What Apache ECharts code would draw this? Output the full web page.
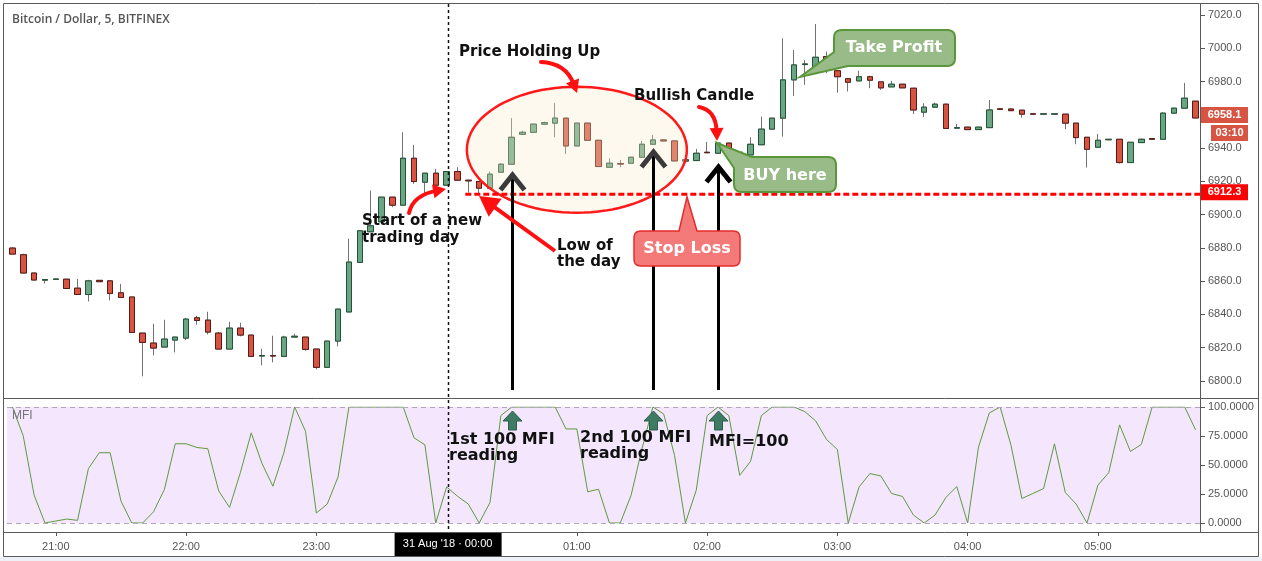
<!DOCTYPE html>
<html><head><meta charset="utf-8">
<script src="https://cdn.jsdelivr.net/npm/echarts@6/dist/echarts.min.js"></script>
<style>html,body{margin:0;padding:0;background:#fff;overflow:hidden}#c{width:1262px;height:561px}</style>
</head><body><div id="c"></div>
<script>
// ---------------- data ----------------
const title = 'Bitcoin / Dollar, 5, BITFINEX';
const firstBar = '20:40';
const barCount = 110;
// [open, close, low, high]
const ohlc = [
[6879.9,6876.3,6876.3,6880.5],[6875.9,6864.9,6864.9,6876.5],[6864.9,6860.7,6860.7,6864.9],[6860.6,6861.0,6858.6,6861.0],[6861.1,6861.3,6861.1,6861.3],
[6861.2,6855.6,6855.6,6861.2],[6855.8,6852.0,6852.0,6861.4],[6852.0,6860.2,6847.8,6860.8],[6860.5,6859.7,6859.7,6860.5],[6860.2,6852.6,6848.4,6860.2],
[6853.0,6850.2,6850.2,6858.4],[6850.5,6829.2,6829.2,6850.5],[6828.8,6823.2,6802.8,6828.8],[6822.8,6819.8,6815.4,6834.4],[6820.4,6825.2,6820.4,6836.8],
[6824.6,6826.4,6817.2,6826.4],[6825.8,6837.2,6824.6,6838.0],[6838.0,6836.4,6833.8,6839.2],[6836.6,6829.4,6828.0,6841.6],[6828.8,6819.2,6819.2,6829.4],
[6819.2,6831.8,6819.2,6835.6],[6831.8,6827.6,6826.8,6835.0],[6827.6,6814.8,6814.8,6827.6],[6815.0,6815.3,6809.4,6819.4],[6815.3,6815.0,6811.2,6827.2],
[6814.8,6826.4,6814.8,6827.2],[6826.4,6826.9,6826.4,6828.4],[6826.4,6819.0,6818.2,6826.4],[6819.2,6808.2,6807.0,6819.2],[6808.2,6824.0,6808.2,6824.0],
[6824.0,6843.2,6820.8,6843.2],[6841.5,6871.5,6841.5,6885.5],[6871.3,6890.3,6871.3,6890.3],[6889.7,6893.3,6889.7,6914.5],[6895.7,6910.5,6895.7,6910.5],
[6910.5,6905.7,6904.5,6910.5],[6905.7,6933.9,6905.7,6949.5],[6933.9,6919.9,6918.5,6941.9],[6919.5,6924.9,6912.9,6924.9],[6924.9,6917.7,6915.9,6927.5],
[6917.7,6925.9,6917.7,6925.9],[6925.9,6920.7,6920.7,6928.5],[6920.7,6920.3,6913.3,6920.7],[6919.9,6915.9,6912.3,6919.9],[6915.9,6924.3,6915.9,6925.9],
[6925.5,6930.3,6925.5,6931.0],[6930.3,6946.5,6930.3,6958.0],[6948.3,6949.5,6948.3,6950.5],[6949.5,6954.4,6949.5,6954.4],[6954.4,6955.3,6954.4,6955.9],
[6955.0,6958.0,6946.5,6967.0],[6958.0,6941.3,6936.5,6958.0],[6941.3,6955.0,6941.3,6955.0],[6955.0,6944.7,6944.7,6955.0],[6944.7,6928.9,6928.9,6944.7],
[6928.5,6930.9,6928.5,6933.9],[6930.7,6930.4,6928.5,6932.9],[6930.9,6934.5,6930.9,6934.5],[6934.5,6942.3,6934.5,6944.3],[6942.3,6944.9,6942.3,6947.9],
[6944.9,6944.3,6944.3,6944.9],[6944.3,6932.3,6932.3,6944.3],[6932.2,6933.0,6932.2,6933.0],[6932.5,6936.9,6932.5,6939.5],[6937.5,6937.2,6937.2,6943.7],
[6936.9,6943.0,6936.9,6943.0],[6943.0,6937.3,6937.3,6943.0],[6937.5,6935.9,6934.9,6937.5],[6935.9,6942.3,6935.9,6946.5],[6942.0,6951.4,6942.0,6958.9],
[6951.4,6958.0,6951.4,6958.0],[6958.0,6981.0,6946.9,7006.0],[6981.0,6990.0,6971.4,6999.0],[6990.2,6990.6,6978.0,6993.0],[6989.0,6994.6,6985.0,7014.6],
[6995.0,6987.0,6985.0,6998.0],[6986.5,6982.9,6973.3,6986.5],[6981.7,6979.6,6974.0,6981.7],[6980.4,6982.9,6980.4,6986.5],[6982.9,6980.8,6976.0,6983.5],
[6979.8,6976.2,6975.0,6979.8],[6976.8,6978.4,6976.8,6980.4],[6978.4,6976.2,6976.2,6978.4],[6976.0,6962.9,6960.5,6976.0],[6961.6,6964.6,6958.6,6967.0],
[6964.6,6966.4,6964.6,6967.3],[6966.4,6951.8,6951.8,6966.4],[6952.0,6952.3,6952.0,6954.5],[6952.6,6951.1,6951.1,6952.6],[6951.1,6952.6,6951.1,6952.6],
[6952.3,6962.9,6952.3,6968.9],[6963.6,6963.3,6963.3,6963.6],[6963.5,6962.5,6962.5,6964.1],[6962.8,6960.4,6958.3,6962.8],[6960.6,6960.4,6960.4,6960.6],
[6960.4,6960.6,6960.4,6960.6],[6960.4,6960.6,6960.4,6960.6],[6960.4,6955.0,6951.4,6960.4],[6955.0,6946.3,6942.3,6955.0],[6946.5,6939.3,6928.3,6946.5],
[6940.5,6944.7,6940.5,6948.5],[6945.0,6945.3,6945.0,6945.3],[6945.3,6931.3,6930.7,6945.3],[6931.3,6943.5,6931.3,6943.5],[6943.3,6945.3,6943.3,6945.8],
[6945.7,6945.3,6945.3,6945.7],[6945.3,6961.0,6945.3,6961.6],[6961.0,6964.0,6961.0,6964.0],[6964.0,6970.0,6964.0,6979.2],[6968.2,6958.1,6958.1,6968.2]
];
const mfi = [
100,74.9,24,0,1.7,3.4,2.3,46.9,60.6,60.6,
18.9,0,0,9.7,28.9,68.3,68.3,65.1,64,27.7,
13.4,43.4,77.7,51.1,31.7,60.3,100,79.1,8.6,16.3,
39.7,100,100,100,100,100,100,73.4,67.4,0,
31.1,23.1,16.3,0,17.7,92.6,100,100,100,100,
100,81.1,81.1,26.9,29.1,0,0,24,64,100,
94,58.3,0,28.3,92.6,100,92.6,41.1,53.1,92.6,
100,100,100,96,88,72,63.4,0,31.1,42.6,
40.6,25.4,22.9,6.9,0,6.9,22,31.4,0,65.4,
94.9,100,66.9,21.1,25.4,29.7,68.3,26.3,16.3,0,
32.6,43.4,84.6,61.7,67.7,100,100,100,100,80.3
];
const lastPrice = 6958.1;
const countdown = '03:10';
const stopPrice = 6912.3;
const dayStartIndex = 40;
const dayStartLabel = "31 Aug '18 \u00b7 00:00";
const signalIndex = [46, 59, 65];

// category labels (5-minute bars)
const times = [];
{
  const [h0, m0] = firstBar.split(':').map(Number);
  for (let k = 0; k < barCount; k++) {
    const m = h0 * 60 + m0 + 5 * k;
    times.push(String(Math.floor(m / 60) % 24).padStart(2, '0') + ':' + String(m % 60).padStart(2, '0'));
  }
}
const isHour = (i, v) => v.endsWith(':00') && i !== dayStartIndex;

// ---------------- chart ----------------
const chart = echarts.init(document.getElementById('c'));
const AX = '#555';
const AXFONT = 'Liberation Sans, Arial, sans-serif';
const gridBase = {left: 7, right: 61, outerBoundsMode: 'none', containLabel: false};
chart.setOption({
  animation: false,
  backgroundColor: '#ffffff',
  grid: [
    Object.assign({top: 15, height: 366}, gridBase),
    Object.assign({top: 407, height: 116}, gridBase),
    Object.assign({top: 532, height: 1}, gridBase)
  ],
  xAxis: [0, 1, 2].map(g => ({
    type: 'category', gridIndex: g, data: times, boundaryGap: true,
    axisLine: {show: false},
    axisTick: {show: g === 2, alignWithLabel: true, length: 3, interval: isHour, lineStyle: {color: AX}},
    axisLabel: {show: g === 2, interval: isHour, margin: 8, color: AX, fontSize: 11, fontFamily: AXFONT},
    splitLine: {show: false}
  })),
  yAxis: [
    {type: 'value', gridIndex: 0, position: 'right', min: 6800, max: 7020, interval: 20,
     axisLine: {show: false}, axisTick: {show: true, length: 4, lineStyle: {color: AX}},
     axisLabel: {margin: 7, color: AX, fontSize: 11, fontFamily: AXFONT, formatter: v => v.toFixed(1)},
     splitLine: {show: false}},
    {type: 'value', gridIndex: 1, position: 'right', min: 0, max: 100, interval: 25,
     axisLine: {show: false}, axisTick: {show: true, length: 4, lineStyle: {color: AX}},
     axisLabel: {margin: 7, color: AX, fontSize: 11, fontFamily: AXFONT, formatter: v => v.toFixed(4)},
     splitLine: {show: false}},
    {type: 'value', gridIndex: 2, show: false}
  ],
  series: [
    {type: 'candlestick', xAxisIndex: 0, yAxisIndex: 0, data: ohlc, barWidth: 6, z: 2,
     itemStyle: {color: '#737375', color0: '#737375', borderColor: '#737375', borderColor0: '#737375', borderColorDoji: '#737375', borderWidth: 1}},
    {type: 'candlestick', xAxisIndex: 0, yAxisIndex: 0, barWidth: 6, z: 3,
     data: ohlc.map(([o, c]) => [o, c, Math.min(o, c), Math.max(o, c)]),
     itemStyle: {color: '#6ba583', color0: '#d75442', borderColor: '#225437', borderColor0: '#5b1a13', borderWidth: 1}},
    {type: 'line', xAxisIndex: 1, yAxisIndex: 1, data: mfi, symbol: 'none', z: 3,
     lineStyle: {color: '#5f9a3f', width: 1},
     markArea: {silent: true, itemStyle: {color: '#f3e6fd'}, data: [[{yAxis: 0}, {yAxis: 100}]]},
     markLine: {silent: true, symbol: 'none', label: {show: false},
       lineStyle: {color: '#b3a5bc', type: [5, 4], width: 1}, data: [{yAxis: 0}, {yAxis: 100}]}}
  ]
});

// ---------------- annotations ----------------
const P = (i, v) => chart.convertToPixel({gridIndex: 0}, [i, v]);
const Q = (i, v) => chart.convertToPixel({gridIndex: 1}, [i, v]);
const G = [];
const Z = 20;
const ANN = 'bold 15px "DejaVu Sans", Verdana, sans-serif';
const ANN16 = 'bold 16px "DejaVu Sans", Verdana, sans-serif';

function text(x, y, t, font, fill, align, lh) {
  G.push({type: 'text', x: x, y: y, z: 60, silent: true,
    style: {text: t, font: font, fill: fill, textAlign: align || 'left', align: align || 'left',
      textVerticalAlign: 'middle', verticalAlign: 'middle', lineHeight: lh || 17}});
}
function line(x1, y1, x2, y2, stroke, w, dash, z) {
  G.push({type: 'line', z: z || Z, silent: true, shape: {x1, y1, x2, y2},
    style: {stroke: stroke, lineWidth: w, lineDash: dash || null}});
}
function poly(points, fill, stroke, w, z) {
  G.push({type: 'polygon', z: z || Z, silent: true, shape: {points: points},
    style: {fill: fill, stroke: stroke || null, lineWidth: w || 0}});
}
function roundPts(pts) {
  const out = []; const n = pts.length;
  for (let k = 0; k < n; k++) {
    const [x, y, r] = pts[k];
    if (!r) { out.push([x, y]); continue; }
    const [px, py] = pts[(k - 1 + n) % n], [nx, ny] = pts[(k + 1) % n];
    const d1 = Math.hypot(px - x, py - y), d2 = Math.hypot(nx - x, ny - y);
    const a = [x + (px - x) / d1 * r, y + (py - y) / d1 * r], b = [x + (nx - x) / d2 * r, y + (ny - y) / d2 * r];
    for (let s = 0; s <= 6; s++) {
      const t = s / 6;
      out.push([(1 - t) * (1 - t) * a[0] + 2 * (1 - t) * t * x + t * t * b[0],
                (1 - t) * (1 - t) * a[1] + 2 * (1 - t) * t * y + t * t * b[1]]);
    }
  }
  return out;
}
function curvedArrow(p0, c, tip, color, w, hl, hw) {
  const dx = tip[0] - c[0], dy = tip[1] - c[1], d = Math.hypot(dx, dy);
  const ux = dx / d, uy = dy / d;
  const base = [tip[0] - ux * hl, tip[1] - uy * hl];
  const end = [tip[0] - ux * hl * 0.7, tip[1] - uy * hl * 0.7];
  G.push({type: 'bezierCurve', z: Z, silent: true,
    shape: {x1: p0[0], y1: p0[1], cpx1: c[0], cpy1: c[1], x2: end[0], y2: end[1]},
    style: {stroke: color, lineWidth: w, fill: null, lineCap: 'round'}});
  poly([tip, [base[0] - uy * hw, base[1] + ux * hw], [base[0] + uy * hw, base[1] - ux * hw]], color, null, 0, Z + 1);
}

// light strip below chart
G.push({type: 'rect', z: 0, silent: true, shape: {x: 0, y: 557, width: 1262, height: 4}, style: {fill: '#eef1f6'}});

// ellipse "price holding up" (over the candles, semi-transparent)
{
  const [cx, cy] = P(52, 6939);
  const pts = [];
  for (let k = 0; k < 96; k++) { const a = k / 96 * Math.PI * 2; pts.push([cx + 110 * Math.cos(a), cy + 63 * Math.sin(a)]); }
  poly(pts, 'rgba(250,236,205,0.32)', '#ff1a1a', 2.5, 8);
}

// stop level dashed line
{
  const [x0, y] = P(42, stopPrice);
  line(x0 - 3, y, 1200, y, '#ff0000', 3, [6, 3], 12);
}

// day start dotted line
{
  const x = Math.round(P(dayStartIndex, 6900)[0]) + 1.5;
  line(x, 4, x, 532, '#111', 1.5, [3, 3], 12);
}

// signal arrows (main pane) and MFI arrows
{
  const tips = [173, 150, 165];
  const heads = ['#3a3a3a', '#3a3a3a', '#000'];
  signalIndex.forEach((i, k) => {
    const x = Math.round(P(i, 6900)[0]) + 0.5;
    const t = tips[k];
    line(x, 390, x, t + 3, '#000', 3, null, 14);
    G.push({type: 'polyline', z: 15, silent: true, shape: {points: [[x - 12, t + 17], [x, t + 2], [x + 12, t + 17]]},
      style: {stroke: heads[k], lineWidth: 5, fill: null, lineJoin: 'miter'}});
    const y0 = Q(i, 100)[1] + 4;
    poly([[x, y0], [x + 9.5, y0 + 10], [x + 4, y0 + 10], [x + 4, y0 + 19], [x - 4, y0 + 19], [x - 4, y0 + 10], [x - 9.5, y0 + 10]],
      '#3d7b64', '#2c5e4a', 1, 16);
  });
}

// red curved arrows
curvedArrow([409, 213], [413, 195], [446, 189], '#ff1010', 4, 13, 7);
curvedArrow([541, 62], [566, 63], [577, 93], '#ff1010', 4, 13, 7);
curvedArrow([699, 107], [716, 110], [717, 141], '#ff1010', 4, 13, 7);
// low of the day arrow (straight)
{
  const tip = [479, 196], from = [555, 251];
  const dx = tip[0] - from[0], dy = tip[1] - from[1], d = Math.hypot(dx, dy), ux = dx / d, uy = dy / d;
  const base = [tip[0] - ux * 20, tip[1] - uy * 20];
  line(from[0], from[1], base[0] + ux * 6, base[1] + uy * 6, '#ff1010', 4, null, Z);
  poly([tip, [base[0] - uy * 11, base[1] + ux * 11], [base[0] + uy * 11, base[1] - ux * 11]], '#ff1010', null, 0, Z + 1);
}

// callouts
poly(roundPts([[634, 231, 7], [679, 231, 0], [687, 197, 0], [697, 231, 0], [740, 231, 7], [740, 266, 7], [634, 266, 7]]),
  '#f47a7a', '#e52b2b', 1.5, 30);
text(687, 249, 'Stop Loss', ANN16, '#ffffff', 'center');
poly(roundPts([[734, 168, 0], [717, 143, 0], [752, 157, 0], [836, 157, 8], [836, 192, 8], [734, 192, 8]]),
  '#98bb87', '#5a963c', 2, 30);
text(785, 176, 'BUY here', ANN16, '#ffffff', 'center');
poly(roundPts([[834, 30, 8], [955, 30, 8], [955, 66, 8], [848, 66, 0], [800, 77, 0], [834, 52, 0]]),
  '#98bb87', '#5a963c', 2, 30);
text(894, 48, 'Take Profit', ANN16, '#ffffff', 'center');

// black annotation texts
text(459, 52, 'Price Holding Up', ANN, '#111');
text(634, 96, 'Bullish Candle', ANN, '#111');
text(362, 230, 'Start of a new\ntrading day', ANN, '#111', 'left', 17);
text(557, 254, 'Low of\nthe day', ANN, '#111', 'left', 16);
text(449, 448, '1st 100 MFI\nreading', ANN16, '#111', 'left', 16);
text(580, 446, '2nd 100 MFI\nreading', ANN16, '#111', 'left', 16);
text(709, 442, 'MFI=100', ANN16, '#111');

// title & pane label
text(12, 20, title, '600 12px "Open Sans", Arial, sans-serif', '#555');
text(12, 416, 'MFI', '12px "Liberation Sans", Arial, sans-serif', '#777');

// price-axis tags
{
  const y1 = P(0, lastPrice)[1] - 3;
  G.push({type: 'rect', z: 40, silent: true, shape: {x: 1201, y: y1 - 8, width: 47, height: 16}, style: {fill: '#d75442'}});
  text(1224.5, y1, lastPrice.toFixed(1), 'bold 11px ' + AXFONT, '#fff', 'center');
  G.push({type: 'rect', z: 40, silent: true, shape: {x: 1211, y: y1 + 10, width: 37, height: 16}, style: {fill: '#d75442'}});
  text(1229.5, y1 + 18, countdown, 'bold 11px ' + AXFONT, '#fff', 'center');
  const y2 = P(0, stopPrice)[1] - 2;
  G.push({type: 'rect', z: 40, silent: true, shape: {x: 1201, y: y2 - 8, width: 47, height: 16}, style: {fill: '#ff0000'}});
  text(1224.5, y2, stopPrice.toFixed(1), 'bold 11px ' + AXFONT, '#fff', 'center');
}

// day-start label on time axis
{
  const x = P(dayStartIndex, 6900)[0];
  G.push({type: 'rect', z: 40, silent: true, shape: {x: x - 52, y: 533, width: 107, height: 23}, style: {fill: '#000'}});
  text(x + 1, 543.5, dayStartLabel, '11px ' + AXFONT, '#fff', 'center');
}

// frame lines
const FR = '#5a5a5a';
G.push({type: 'rect', z: 50, silent: true, shape: {x: 3.5, y: 3.5, width: 1255, height: 553}, style: {fill: null, stroke: FR, lineWidth: 1}});
line(1200.5, 3.5, 1200.5, 532.5, FR, 1, null, 50);
line(3.5, 398.5, 1258.5, 398.5, FR, 1, null, 50);
line(3.5, 532.5, 1258.5, 532.5, FR, 1, null, 50);

chart.setOption({graphic: G.map(e => Object.assign({}, e))});
</script>
</body></html>
